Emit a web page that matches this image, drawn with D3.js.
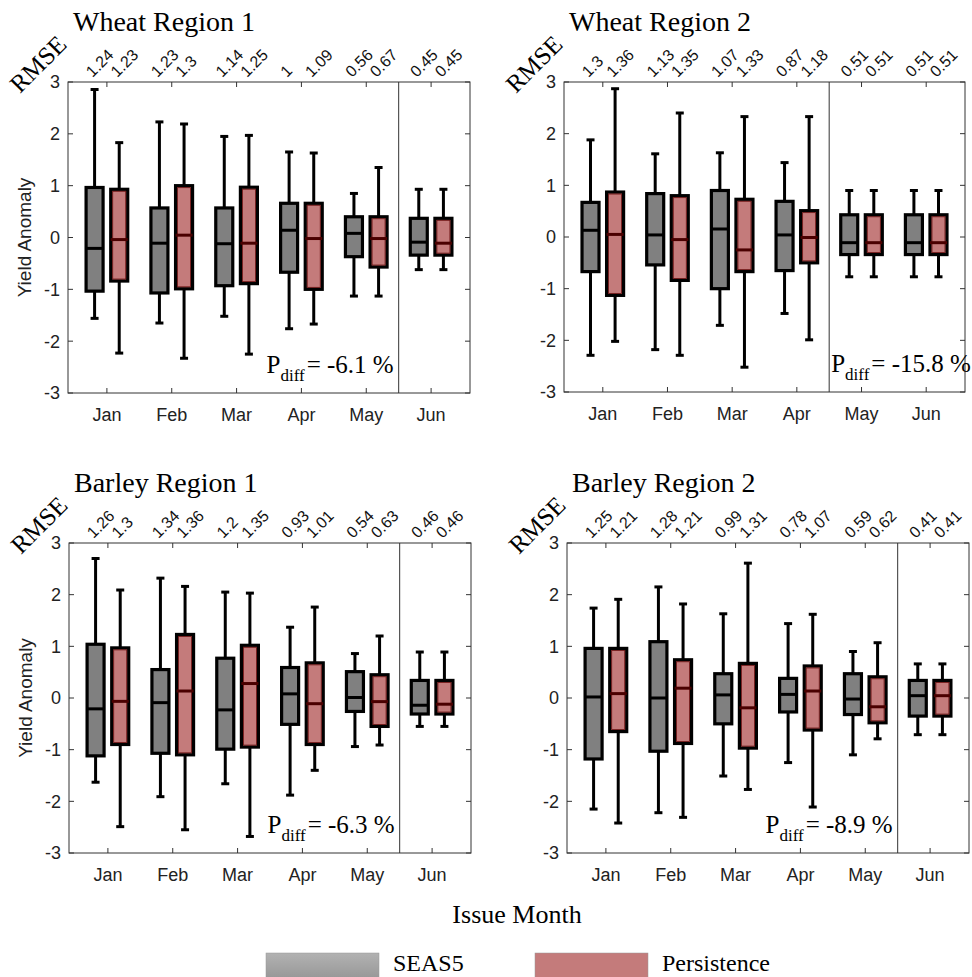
<!DOCTYPE html>
<html>
<head>
<meta charset="utf-8">
<script src="https://cdn.jsdelivr.net/npm/d3@7"></script>
<style>
  html, body { margin: 0; padding: 0; background: #fff; }
  svg { display: block; }
</style>
</head>
<body>
<svg id="chart" width="972" height="977"></svg>
<script>
// ---------------- DATA ----------------
const months = ["Jan", "Feb", "Mar", "Apr", "May", "Jun"];
const yTicks = [-3, -2, -1, 0, 1, 2, 3];
const seriesNames = ["SEAS5", "Persistence"];
const panelTitles = ["Wheat Region 1", "Wheat Region 2", "Barley Region 1", "Barley Region 2"];

// box stats per month: [lower whisker, q1, median, q3, upper whisker]
const wheat1Seas5 = [
  [-1.56, -1.035, -0.21, 0.965, 2.855],
  [-1.65, -1.07, -0.11, 0.57, 2.23],
  [-1.52, -0.93, -0.12, 0.57, 1.95],
  [-1.76, -0.67, 0.14, 0.66, 1.65],
  [-1.13, -0.37, 0.08, 0.40, 0.85],
  [-0.62, -0.34, -0.09, 0.37, 0.93]
];
const wheat1Pers = [
  [-2.23, -0.84, -0.04, 0.93, 1.83],
  [-2.33, -0.99, 0.045, 1.00, 2.19],
  [-2.25, -0.89, -0.11, 0.97, 1.97],
  [-1.67, -1.00, -0.02, 0.66, 1.63],
  [-1.13, -0.57, -0.02, 0.40, 1.35],
  [-0.62, -0.34, -0.11, 0.37, 0.93]
];
const wheat2Seas5 = [
  [-2.29, -0.67, 0.13, 0.67, 1.88],
  [-2.18, -0.54, 0.04, 0.84, 1.61],
  [-1.71, -1.00, 0.155, 0.90, 1.63],
  [-1.48, -0.65, 0.04, 0.69, 1.44],
  [-0.77, -0.34, -0.11, 0.43, 0.90],
  [-0.77, -0.34, -0.11, 0.43, 0.90]
];
const wheat2Pers = [
  [-2.02, -1.13, 0.05, 0.87, 2.87],
  [-2.29, -0.84, -0.05, 0.80, 2.40],
  [-2.52, -0.67, -0.25, 0.73, 2.33],
  [-1.99, -0.50, -0.01, 0.51, 2.33],
  [-0.77, -0.34, -0.11, 0.43, 0.90],
  [-0.77, -0.34, -0.11, 0.43, 0.90]
];
const barley1Seas5 = [
  [-1.63, -1.12, -0.21, 1.04, 2.70],
  [-1.91, -1.07, -0.09, 0.55, 2.32],
  [-1.66, -0.99, -0.23, 0.77, 2.05],
  [-1.88, -0.51, 0.08, 0.59, 1.37],
  [-0.94, -0.26, 0.01, 0.51, 0.86],
  [-0.55, -0.31, -0.14, 0.34, 0.89]
];
const barley1Pers = [
  [-2.49, -0.90, -0.065, 0.97, 2.09],
  [-2.55, -1.10, 0.135, 1.23, 2.16],
  [-2.68, -0.95, 0.28, 1.02, 2.03],
  [-1.40, -0.90, -0.11, 0.68, 1.76],
  [-0.91, -0.55, -0.07, 0.45, 1.20],
  [-0.55, -0.31, -0.12, 0.34, 0.89]
];
const barley2Seas5 = [
  [-2.15, -1.18, 0.02, 0.96, 1.74],
  [-2.22, -1.03, 0.00, 1.09, 2.15],
  [-1.51, -0.50, 0.06, 0.47, 1.63],
  [-1.25, -0.27, 0.07, 0.38, 1.44],
  [-1.10, -0.32, -0.02, 0.47, 0.90],
  [-0.71, -0.35, 0.045, 0.34, 0.66]
];
const barley2Pers = [
  [-2.42, -0.65, 0.085, 0.96, 1.91],
  [-2.31, -0.88, 0.19, 0.74, 1.82],
  [-1.77, -0.97, -0.19, 0.67, 2.61],
  [-2.11, -0.62, 0.135, 0.62, 1.62],
  [-0.79, -0.48, -0.17, 0.41, 1.07],
  [-0.71, -0.35, 0.045, 0.34, 0.66]
];

// RMSE labels per month
const wheat1RmseSeas5 = ["1.24", "1.23", "1.14", "1", "0.56", "0.45"];
const wheat1RmsePers  = ["1.23", "1.3", "1.25", "1.09", "0.67", "0.45"];
const wheat2RmseSeas5 = ["1.3", "1.13", "1.07", "0.87", "0.51", "0.51"];
const wheat2RmsePers  = ["1.36", "1.35", "1.33", "1.18", "0.51", "0.51"];
const barley1RmseSeas5 = ["1.26", "1.34", "1.2", "0.93", "0.54", "0.46"];
const barley1RmsePers  = ["1.3", "1.36", "1.35", "1.01", "0.63", "0.46"];
const barley2RmseSeas5 = ["1.25", "1.28", "0.99", "0.78", "0.59", "0.41"];
const barley2RmsePers  = ["1.21", "1.21", "1.31", "1.07", "0.62", "0.41"];

const pdiffValues = ["-6.1", "-15.8", "-6.3", "-8.9"];
const splitAfterMonth = [5, 4, 5, 5]; // vertical divider after this month index (1-based)

// ---------------- LAYOUT ----------------
const panelBoxes = [
  { left: 68, top: 82, right: 470, bottom: 393, yLabel: true, pdiffAlign: "endAtSplit" },
  { left: 564, top: 82, right: 965, bottom: 392, yLabel: false, pdiffAlign: "startAtSplit" },
  { left: 69, top: 543, right: 471, bottom: 853, yLabel: true, pdiffAlign: "endAtSplit" },
  { left: 567, top: 543, right: 969, bottom: 853, yLabel: false, pdiffAlign: "endAtSplit" }
];
const panelData = [
  { s: wheat1Seas5, p: wheat1Pers, rs: wheat1RmseSeas5, rp: wheat1RmsePers },
  { s: wheat2Seas5, p: wheat2Pers, rs: wheat2RmseSeas5, rp: wheat2RmsePers },
  { s: barley1Seas5, p: barley1Pers, rs: barley1RmseSeas5, rp: barley1RmsePers },
  { s: barley2Seas5, p: barley2Pers, rs: barley2RmseSeas5, rp: barley2RmsePers }
];

const sans = "'Liberation Sans', Arial, sans-serif";
const serif = "'Liberation Serif', 'Times New Roman', serif";
const colSeas = "#808080";
const colPers = "#c47b7b";
const axisCol = "#333";

const svg = d3.select("#chart");

const defs = svg.append("defs");
const grad = defs.append("linearGradient").attr("id", "gGray")
  .attr("x1", 0).attr("y1", 0).attr("x2", 0).attr("y2", 1);
grad.append("stop").attr("offset", "0%").attr("stop-color", "#b2b2b2");
grad.append("stop").attr("offset", "100%").attr("stop-color", "#939393");

panelBoxes.forEach((pb, pi) => {
  const d = panelData[pi];
  const g = svg.append("g");
  const x = d3.scaleLinear().domain([0.4, 6.6]).range([pb.left, pb.right]);
  const y = d3.scaleLinear().domain([-3, 3]).range([pb.bottom, pb.top]);
  const off = 0.19;
  const bw = 17;
  const capW = 8;

  // frame
  g.append("rect").attr("x", pb.left).attr("y", pb.top)
    .attr("width", pb.right - pb.left).attr("height", pb.bottom - pb.top)
    .attr("fill", "none").attr("stroke", axisCol).attr("stroke-width", 1);

  // y ticks (left + right inside) and labels
  yTicks.forEach(t => {
    g.append("line").attr("x1", pb.left).attr("x2", pb.left + 5)
      .attr("y1", y(t)).attr("y2", y(t)).attr("stroke", axisCol);
    g.append("line").attr("x1", pb.right).attr("x2", pb.right - 5)
      .attr("y1", y(t)).attr("y2", y(t)).attr("stroke", axisCol);
    g.append("text").attr("x", pb.left - 8).attr("y", y(t)).attr("dy", "0.36em")
      .attr("text-anchor", "end").attr("font-family", sans).attr("font-size", 18)
      .attr("fill", "#222").text(t);
  });

  // x ticks (top + bottom inside) and labels
  months.forEach((m, i) => {
    const xm = x(i + 1);
    g.append("line").attr("x1", xm).attr("x2", xm)
      .attr("y1", pb.bottom).attr("y2", pb.bottom - 5).attr("stroke", axisCol);
    g.append("line").attr("x1", xm).attr("x2", xm)
      .attr("y1", pb.top).attr("y2", pb.top + 5).attr("stroke", axisCol);
    g.append("text").attr("x", xm).attr("y", pb.bottom + 28)
      .attr("text-anchor", "middle").attr("font-family", sans).attr("font-size", 18)
      .attr("fill", "#222").text(m);
  });

  // divider
  const xs = x(splitAfterMonth[pi] + 0.5);
  g.append("line").attr("x1", xs).attr("x2", xs)
    .attr("y1", pb.top).attr("y2", pb.bottom).attr("stroke", axisCol).attr("stroke-width", 1);

  // boxes
  const drawBox = (stats, cx, fill, isPers) => {
    const [lo, q1, med, q3, hi] = stats;
    const bg = g.append("g");
    bg.append("line").attr("x1", cx).attr("x2", cx).attr("y1", y(q3)).attr("y2", y(hi))
      .attr("stroke", "#000").attr("stroke-width", 3);
    bg.append("line").attr("x1", cx).attr("x2", cx).attr("y1", y(q1)).attr("y2", y(lo))
      .attr("stroke", "#000").attr("stroke-width", 3);
    bg.append("line").attr("x1", cx - capW / 2).attr("x2", cx + capW / 2).attr("y1", y(hi)).attr("y2", y(hi))
      .attr("stroke", "#000").attr("stroke-width", 3);
    bg.append("line").attr("x1", cx - capW / 2).attr("x2", cx + capW / 2).attr("y1", y(lo)).attr("y2", y(lo))
      .attr("stroke", "#000").attr("stroke-width", 3);
    bg.append("rect").attr("x", cx - bw / 2).attr("y", y(q3))
      .attr("width", bw).attr("height", y(q1) - y(q3))
      .attr("fill", fill).attr("stroke", "#000").attr("stroke-width", 3.2);
    if (isPers) {
      bg.append("rect").attr("x", cx - bw / 2 + 2).attr("y", y(q3) + 2)
        .attr("width", bw - 4).attr("height", y(q1) - y(q3) - 4)
        .attr("fill", "none").attr("stroke", "#6a1010").attr("stroke-width", 0.8);
    }
    bg.append("line").attr("x1", cx - bw / 2).attr("x2", cx + bw / 2).attr("y1", y(med)).attr("y2", y(med))
      .attr("stroke", isPers ? "#4a0000" : "#000").attr("stroke-width", 3);
  };

  months.forEach((m, i) => {
    const cS = x(i + 1 - off), cP = x(i + 1 + off);
    drawBox(d.s[i], cS, colSeas, false);
    drawBox(d.p[i], cP, colPers, true);
    // RMSE labels
    [[cS, d.rs[i]], [cP, d.rp[i]]].forEach(([cx, lab]) => {
      g.append("text").attr("transform", `translate(${cx - 2},${pb.top - 4}) rotate(-45)`)
        .attr("font-family", sans).attr("font-size", 16).attr("fill", "#111").text(lab);
    });
  });

  // RMSE header
  g.append("text").attr("transform", `translate(${pb.left - 48},${pb.top + 12}) rotate(-45)`)
    .attr("font-family", serif).attr("font-size", 25).attr("fill", "#000").text("RMSE");

  // title
  g.append("text").attr("x", pb.left + 5).attr("y", pb.top - 51)
    .attr("font-family", serif).attr("font-size", 28).attr("fill", "#000").text(panelTitles[pi]);

  // y label
  if (pb.yLabel) {
    g.append("text").attr("transform", `translate(${pb.left - 37},${(pb.top + pb.bottom) / 2}) rotate(-90)`)
      .attr("text-anchor", "middle").attr("font-family", sans).attr("font-size", 19)
      .attr("fill", "#222").text("Yield Anomaly");
  }

  // P_diff
  const pt = g.append("text").attr("y", pb.bottom - 20)
    .attr("font-family", serif).attr("font-size", 25).attr("fill", "#000");
  if (pb.pdiffAlign === "endAtSplit") {
    pt.attr("x", xs - 5).attr("text-anchor", "end");
  } else {
    pt.attr("x", xs + 2).attr("text-anchor", "start");
  }
  pt.append("tspan").text("P");
  pt.append("tspan").attr("font-size", 17).attr("dy", 8).text("diff");
  pt.append("tspan").attr("dy", -8).attr("dx", 2).text("= " + pdiffValues[pi] + " %");
});

// x title
svg.append("text").attr("x", 517).attr("y", 923).attr("text-anchor", "middle")
  .attr("font-family", serif).attr("font-size", 26).attr("fill", "#000").text("Issue Month");

// legend
const legX = [266, 535];
const legFill = ["url(#gGray)", colPers];
seriesNames.forEach((nm, i) => {
  svg.append("rect").attr("x", legX[i]).attr("y", 953).attr("width", 113).attr("height", 30)
    .attr("fill", legFill[i]).attr("stroke", "#999").attr("stroke-width", 0.5);
  svg.append("text").attr("x", legX[i] + 127).attr("y", 971)
    .attr("font-family", serif).attr("font-size", 24).attr("fill", "#000").text(nm);
});
</script>
</body>
</html>
